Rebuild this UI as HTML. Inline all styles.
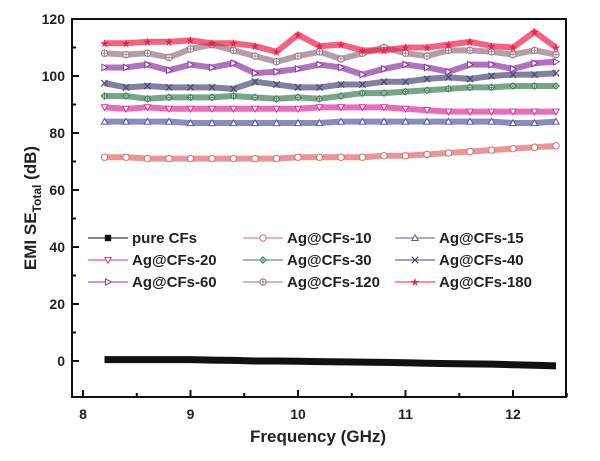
<!DOCTYPE html>
<html><head><meta charset="utf-8"><style>
body{margin:0;background:#fff;}
svg text{font-family:"Liberation Sans",Arial,sans-serif;font-weight:bold;fill:#222;}
</style></head><body>
<svg id="chart" width="600" height="456" viewBox="0 0 600 456">
<g id="series"></g>
<rect x="72" y="19" width="494" height="378" fill="none" stroke="#111" stroke-width="2"/>
<g id="axes"></g>
<text x="318" y="442" font-size="17" text-anchor="middle">Frequency (GHz)</text>
<text transform="translate(36,208) rotate(-90)" font-size="17" text-anchor="middle">EMI SE<tspan font-size="12" dy="5">Total</tspan><tspan dy="-5">  (dB)</tspan></text>
<g id="legend"></g>
</svg>
<script>
const freqs=[8.2,8.4,8.6,8.8,9.0,9.2,9.4,9.6,9.8,10.0,10.2,10.4,10.6,10.8,11.0,11.2,11.4,11.6,11.8,12.0,12.2,12.4];
const seriesNames=["pure CFs","Ag@CFs-10","Ag@CFs-15","Ag@CFs-20","Ag@CFs-30","Ag@CFs-40","Ag@CFs-60","Ag@CFs-120","Ag@CFs-180"];
const pureCFs=[0.5,0.5,0.5,0.5,0.5,0.3,0.2,0,0,-0.1,-0.2,-0.3,-0.4,-0.5,-0.6,-0.8,-0.9,-1,-1.1,-1.3,-1.5,-1.7];
const ag10=[71.5,71.5,71,71,71,71,71,71,71,71.5,71.5,71.5,71.5,72,72,72.5,73,73.5,74,74.5,75,75.5];
const ag15=[84,84,84,84,83.5,83.5,83.5,83.5,83.5,83.5,83.5,84,84,84,84,84,84,84,84,83.5,83.5,84];
const ag20=[89,88.5,89,88.5,88.5,88.5,88.5,88.5,88.5,88.5,89,89,89,89,88.5,88,87.5,87.5,87.5,87.5,87.5,87.5];
const ag30=[93,93,92,92.5,92.5,92.5,93,92.5,92,92.5,92,93,94,94,94.5,95,95.5,96,96,96.5,96.5,96.5];
const ag40=[97.5,96,96.5,96,96,96,95.5,98,97,96,96,97,97,98,98,99,99.5,99,100,100.5,100.5,101];
const ag60=[103,103,104,102,104,103,104.5,101,101.5,102.5,104,103,100.5,102.5,104,103,101.5,104,104,102.5,104.5,105];
const ag120=[108,107.5,108,106.5,109.5,111,109,107,105,107,108.5,106,108,110,108,107,109,109,108.5,107.5,109,107.5];
const ag180=[111.5,111.5,112,112,112.5,111.5,111.5,110.5,108.5,114.5,110.5,111,109,109,110,110,111,112,110.5,110,115.5,110];
const xTicks=[8,9,10,11,12];
const yTicks=[0,20,40,60,80,100,120];
const NS="http://www.w3.org/2000/svg";
const X=v=>83+(v-8)*107.5;
const Y=v=>361-v*2.85;
const colors=["#111","#e26a6a","#5a5aa6","#e0309c","#3f7f55","#4a4a78","#9033a6","#957585","#f0204c"];
const markers=["square","circle","tri","tridown","diamond","x","triright","circplus","star"];
const allData=[pureCFs,ag10,ag15,ag20,ag30,ag40,ag60,ag120,ag180];
function el(t,a,p){const e=document.createElementNS(NS,t);for(const k in a)e.setAttribute(k,a[k]);p.appendChild(e);return e;}
function marker(type,x,y,c,p){
  const s=3.2;let e;
  if(type==="square")e=el("rect",{x:x-s,y:y-s,width:2*s,height:2*s,fill:c},p);
  else if(type==="circle"||type==="circplus"){e=el("circle",{cx:x,cy:y,r:s,fill:"#fff",stroke:c,"stroke-width":1},p);
    if(type==="circplus"){el("path",{d:`M${x-s} ${y}H${x+s}M${x} ${y-s}V${y+s}`,stroke:c,"stroke-width":0.8},p);}}
  else if(type==="tri")e=el("path",{d:`M${x} ${y-s}L${x+s} ${y+s*0.8}L${x-s} ${y+s*0.8}Z`,fill:"#fff",stroke:c,"stroke-width":1},p);
  else if(type==="tridown")e=el("path",{d:`M${x} ${y+s}L${x+s} ${y-s*0.8}L${x-s} ${y-s*0.8}Z`,fill:"#fff",stroke:c,"stroke-width":1},p);
  else if(type==="triright")e=el("path",{d:`M${x+s} ${y}L${x-s*0.8} ${y+s}L${x-s*0.8} ${y-s}Z`,fill:"#fff",stroke:c,"stroke-width":1},p);
  else if(type==="diamond"){e=el("path",{d:`M${x} ${y-s}L${x+s} ${y}L${x} ${y+s}L${x-s} ${y}Z`,fill:"#fff",stroke:c,"stroke-width":1},p);
    el("path",{d:`M${x-s} ${y}H${x+s}M${x} ${y-s}V${y+s}`,stroke:c,"stroke-width":0.8},p);}
  else if(type==="x")e=el("path",{d:`M${x-s} ${y-s}L${x+s} ${y+s}M${x+s} ${y-s}L${x-s} ${y+s}`,stroke:c,"stroke-width":1.2},p);
  else if(type==="star")e=el("path",{d:`M${x} ${y-s-1}L${x+1} ${y-1}L${x+s+1} ${y-1}L${x+1.5} ${y+1}L${x+2.5} ${y+s+1}L${x} ${y+2}L${x-2.5} ${y+s+1}L${x-1.5} ${y+1}L${x-s-1} ${y-1}L${x-1} ${y-1}Z`,fill:c},p);
  return e;
}
const sg=document.getElementById("series");
allData.forEach((d,i)=>{
  const g=el("g",{},sg);
  
  
  const pts=d.map((v,j)=>X(freqs[j])+","+Y(v)).join(" ");
  const pl=el("polyline",{points:pts,fill:"none",stroke:colors[i],"stroke-width":i===0?7:6,"stroke-opacity":i===0?1:0.7,"stroke-linejoin":"round"},g);
  
  
  if(i>0)d.forEach((v,j)=>{const m=marker(markers[i],X(freqs[j]),Y(v),colors[i],g);
    
    });
});
const ax=document.getElementById("axes");
xTicks.forEach(t=>{
  const l=el("line",{x1:X(t),x2:X(t),y1:397,y2:390,stroke:"#111","stroke-width":2},ax);
  
  
  const m=el("line",{x1:X(t+0.5),x2:X(t+0.5),y1:397,y2:393,stroke:"#111","stroke-width":2},ax);
  
  
  const tx=el("text",{x:X(t),y:419,"font-size":14,"text-anchor":"middle"},ax);tx.textContent=t;
  
  
});
yTicks.forEach(t=>{
  const l=el("line",{x1:72,x2:79,y1:Y(t),y2:Y(t),stroke:"#111","stroke-width":2},ax);
  
  
  if(t<120){const m=el("line",{x1:72,x2:76,y1:Y(t+10),y2:Y(t+10),stroke:"#111","stroke-width":2},ax);
  
  }
  const tx=el("text",{x:65,y:Y(t)+5,"font-size":14,"text-anchor":"end"},ax);tx.textContent=t;
  
  
});
const lg=document.getElementById("legend");
const colX=[88,243,395];const rowY=[238,260,282];
seriesNames.forEach((n,i)=>{
  const cx=colX[i%3],cy=rowY[Math.floor(i/3)];
  const g=el("g",{},lg);
  
  
  el("line",{x1:cx,x2:cx+40,y1:cy,y2:cy,stroke:colors[i],"stroke-width":1},g);
  marker(markers[i],cx+20,cy,colors[i],g);
  const t=el("text",{x:cx+44,y:cy+5,"font-size":15},g);t.textContent=n;
});
</script>
</body></html>
